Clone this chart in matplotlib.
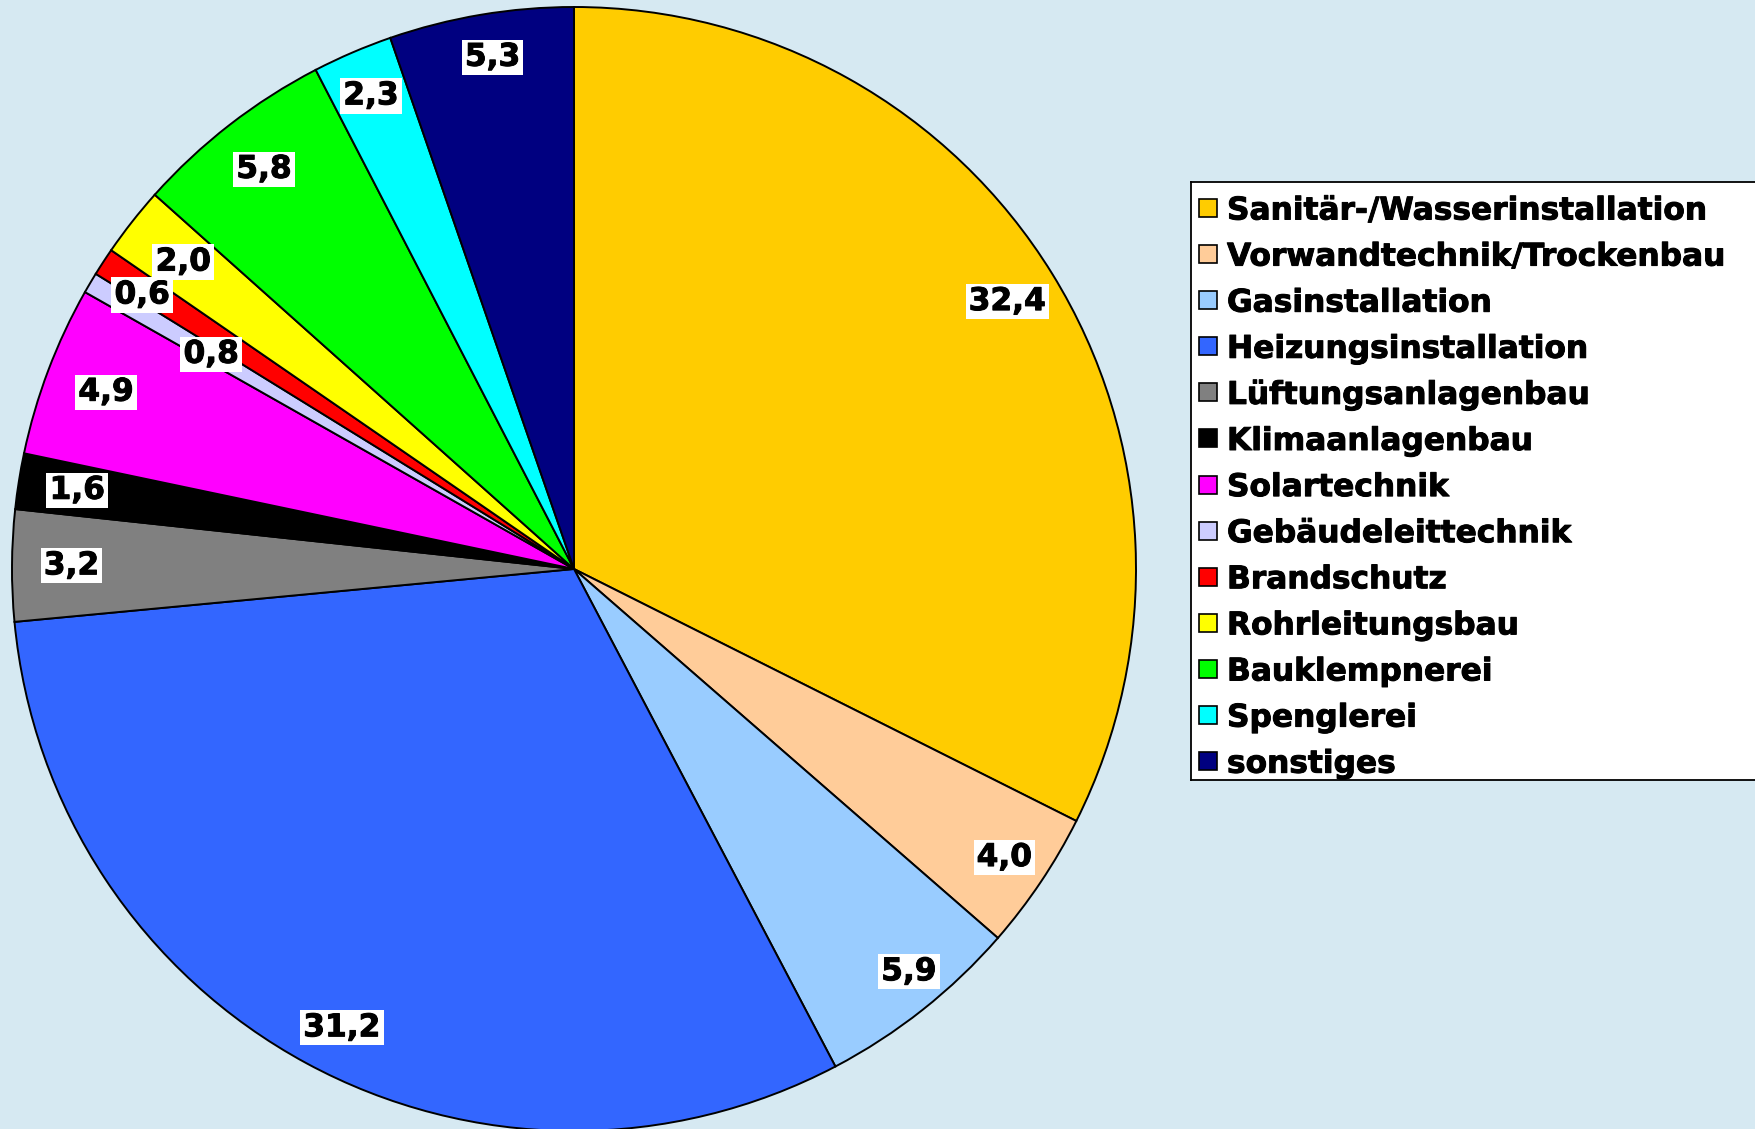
import numpy as np
import matplotlib
matplotlib.use("Agg")
import matplotlib.pyplot as plt
import matplotlib.patheffects as pe
from matplotlib.patches import Rectangle

categories = ["Sanitär-/Wasserinstallation", "Vorwandtechnik/Trockenbau", "Gasinstallation",
              "Heizungsinstallation", "Lüftungsanlagenbau", "Klimaanlagenbau", "Solartechnik",
              "Gebäudeleittechnik", "Brandschutz", "Rohrleitungsbau", "Bauklempnerei",
              "Spenglerei", "sonstiges"]
values = [32.4, 4.0, 5.9, 31.2, 3.2, 1.6, 4.9, 0.6, 0.8, 2.0, 5.8, 2.3, 5.3]
value_labels = ["32,4", "4,0", "5,9", "31,2", "3,2", "1,6", "4,9", "0,6", "0,8", "2,0", "5,8", "2,3", "5,3"]

colors = ["#FFCC00", "#FFCC99", "#99CCFF", "#3366FF", "#808080", "#000000", "#FF00FF",
          "#CCCCFF", "#FF0000", "#FFFF00", "#00FF00", "#00FFFF", "#000080"]
# label placement styles (radius fraction, angle offset in degrees)
label_r = [0.906, 0.922, 0.932, 0.915, 0.894, 0.895, 0.890, 0.91, 0.75, 0.884, 0.90, 0.916, 0.922]
label_da = [0, 0, 1.4, 1.6, 0, 0, 0, -1.8, 2.5, 0, 0, 0, -0.5]

W, H = 1755, 1129
fig = plt.figure(figsize=(W / 100, H / 100), dpi=100)
bg = "#d6e9f2"
fig.patch.set_facecolor(bg)

cx, cy, R = 574, 569, 562
ax = fig.add_axes([(cx - R) / W, (H - cy - R) / H, 2 * R / W, 2 * R / H])

wedges, _ = ax.pie(values, colors=colors, startangle=90, counterclock=False, radius=1.0,
                   wedgeprops=dict(edgecolor="black", linewidth=1.4))
ax.set_xlim(-1, 1)
ax.set_ylim(-1, 1)
ax.set_aspect("equal")
ax.axis("off")

total = sum(values)
cum = 0.0
thick = [pe.withStroke(linewidth=0.7, foreground="black")]
font = dict(fontsize=22.5, fontweight="bold", family="DejaVu Sans")
for i, v in enumerate(values):
    mid = 90 - 360 * (cum + v / 2) / total
    cum += v
    ang = np.deg2rad(mid + label_da[i])
    r = label_r[i]
    ax.text(r * np.cos(ang), r * np.sin(ang), value_labels[i], ha="center", va="center",
            bbox=dict(facecolor="white", edgecolor="none", boxstyle="square,pad=0.1"),
            zorder=5, path_effects=thick, **font)

# legend box
lx0, ly0, lx1, ly1 = 1191, 182, 1762, 780
lax = fig.add_axes([lx0 / W, (H - ly1) / H, (lx1 - lx0) / W, (ly1 - ly0) / H])
lax.set_xlim(lx0, lx1)
lax.set_ylim(ly1, ly0)
lax.set_xticks([])
lax.set_yticks([])
lax.set_facecolor("white")
for s in lax.spines.values():
    s.set_linewidth(1.3)
    s.set_color("black")

row0, step = 208, 46.1
for i, name in enumerate(categories):
    y = row0 + i * step
    lax.add_patch(Rectangle((1199, y - 9), 18, 18, facecolor=colors[i], edgecolor="black", linewidth=1.2))
    lax.text(1227, y, name, ha="left", va="center_baseline", path_effects=thick, **font)

fig.savefig("out.png", dpi=100, facecolor=bg)
